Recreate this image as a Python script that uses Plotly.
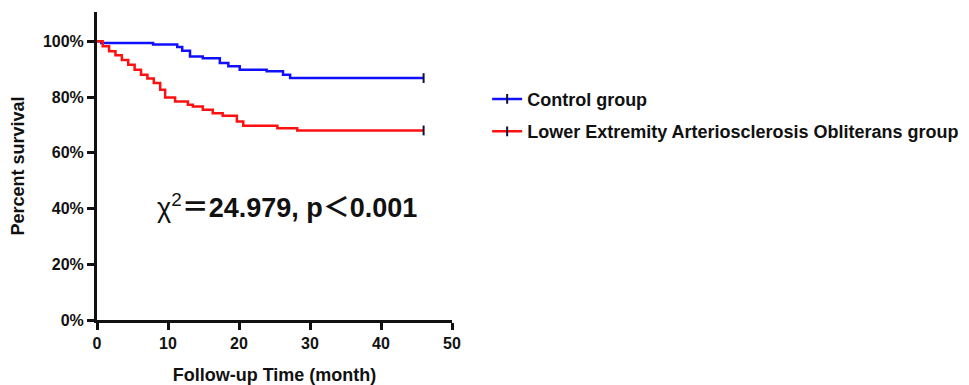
import plotly.graph_objects as go

# Kaplan-Meier data
control_time = [0, 0.6, 7.9, 11.3, 12.0, 13.1, 14.9, 17.3, 18.5, 20.1, 23.9, 26.2, 27.2, 46]
control_surv = [100, 99.4, 98.8, 97.9, 96.6, 94.5, 93.9, 92.2, 91.0, 89.8, 89.2, 88.0, 86.8, 86.8]

leao_time = [0, 0.8, 1.7, 2.6, 3.5, 4.4, 5.3, 6.2, 7.1, 8.0, 8.9, 9.6, 11.0, 12.8, 13.5,
             14.9, 16.3, 17.7, 19.7, 20.6, 25.4, 28.2, 46]
leao_surv = [100, 98.2, 96.4, 95.0, 93.3, 91.6, 89.8, 88.0, 86.6, 85.0, 82.6, 79.8, 78.4, 77.2, 76.6,
             75.4, 74.2, 73.3, 71.2, 69.7, 68.8, 68.0, 68.0]

series_names = ["Control group", "Lower Extremity Arteriosclerosis Obliterans group"]
series_colors = ["#1010ff", "#ff1010"]

x_ticks = [0, 10, 20, 30, 40, 50]
y_ticks = [0, 20, 40, 60, 80, 100]
y_tick_labels = ["0%", "20%", "40%", "60%", "80%", "100%"]

stat_text = "χ<sup>2</sup><b>＝24.979, p＜0.001</b>"

FONT = "Liberation Sans, Arial, Noto Sans CJK SC, sans-serif"

fig = go.Figure()
for i, (t, s) in enumerate([(control_time, control_surv), (leao_time, leao_surv)]):
    fig.add_trace(go.Scatter(
        x=t, y=s, mode="lines", line=dict(color=series_colors[i], width=2.5, shape="hv"),
        showlegend=False, legendgroup=f"g{i}", hoverinfo="skip"))
    fig.add_trace(go.Scatter(
        x=[t[-1]], y=[s[-1]], mode="lines+markers", name=series_names[i], legendgroup=f"g{i}",
        line=dict(color=series_colors[i], width=2.5),
        marker=dict(symbol="line-ns", size=7, color="#111133",
                    line=dict(color="#111133", width=2))))

fig.add_annotation(x=26.8, y=40.8, xref="x", yref="y", text=stat_text, showarrow=False,
                   font=dict(family=FONT, size=27, color="#111"))

fig.update_layout(
    width=961, height=377,
    margin=dict(l=89, r=517, t=4, b=65),
    paper_bgcolor="white", plot_bgcolor="white",
    font=dict(family=FONT, color="#111"),
    legend=dict(x=1.099, y=0.777, xanchor="left", yanchor="top",
                font=dict(family=FONT, size=18, color="#111", weight="bold"),
                tracegroupgap=6, traceorder="grouped", bgcolor="rgba(0,0,0,0)"),
    xaxis=dict(range=[0, 50], tickvals=x_ticks, ticks="outside", ticklen=7, tickwidth=2.5,
               tickcolor="#111", showline=True, linewidth=3, linecolor="#111", showgrid=False,
               zeroline=False, tickfont=dict(family=FONT, size=16, weight="bold"),
               automargin=False,
               title=dict(text="<b>Follow-up Time (month)</b>", font=dict(family=FONT, size=18),
                          standoff=18)),
    yaxis=dict(range=[0, 110.5], tickvals=y_ticks, ticktext=y_tick_labels, ticks="outside",
               ticklen=7, tickwidth=2.5, tickcolor="#111", showline=True, linewidth=3,
               linecolor="#111", showgrid=False, zeroline=False, automargin=False,
               tickfont=dict(family=FONT, size=16, weight="bold"),
               title=dict(text="<b>Percent survival</b>", font=dict(family=FONT, size=18),
                          standoff=14)),
)

fig.write_html("out.html")
